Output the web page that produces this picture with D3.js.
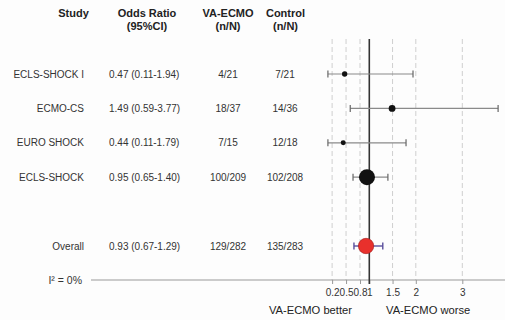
<!DOCTYPE html>
<html>
<head>
<meta charset="utf-8">
<script src="https://cdn.jsdelivr.net/npm/d3@7"></script>
<style>
  body { margin: 0; background: #fdfdfd; }
  svg { font-family: "Liberation Sans", Arial, sans-serif; }
</style>
</head>
<body>
<svg id="chart" width="505" height="320"></svg>
<script>
// データ
const studies = ["ECLS-SHOCK I", "ECMO-CS", "EURO SHOCK", "ECLS-SHOCK"];
const oddsRatio = [0.47, 1.49, 0.44, 0.95];
const ciLow = [0.11, 0.59, 0.11, 0.65];
const ciHigh = [1.94, 3.77, 1.79, 1.40];
const vaEcmo = ["4/21", "18/37", "7/15", "100/209"];
const control = ["7/21", "14/36", "12/18", "102/208"];
const weights = [8, 13, 7, 72];

const overall = { label: "Overall", or: 0.93, lo: 0.67, hi: 1.29, va: "129/282", ctl: "135/283" };
const heterogeneity = "I² = 0%";
const tickValues = [0.2, 0.5, 0.8, 1, 1.5, 2, 3];
const gridValues = [0.2, 0.5, 0.8, 1.5, 2, 3];

const svg = d3.select("#chart");

// スケール
const x = d3.scaleLinear().domain([1, 3]).range([369.3, 462.3]);
const y = d3.scaleLinear().domain([0, 5]).range([74, 246]);
const r = d3.scaleSqrt().domain([0, 72]).range([0, 8]);

const plotTop = 39, axisY = 280;

// ヘッダー
const headers = [
  { x: 73.5, lines: ["Study"] },
  { x: 147, lines: ["Odds Ratio", "(95%CI)"] },
  { x: 228, lines: ["VA-ECMO", "(n/N)"] },
  { x: 285.5, lines: ["Control", "(n/N)"] }
];
headers.forEach(h => {
  h.lines.forEach((t, i) => {
    svg.append("text")
      .attr("x", h.x).attr("y", 17 + i * 12.5)
      .attr("text-anchor", "middle")
      .attr("font-size", "11px").attr("font-weight", "bold")
      .attr("fill", "#222")
      .text(t);
  });
});

// 破線のグリッド
svg.append("g").selectAll("line")
  .data(gridValues)
  .enter().append("line")
  .attr("x1", d => x(d)).attr("x2", d => x(d))
  .attr("y1", plotTop).attr("y2", axisY)
  .attr("stroke", "#cfcfcf").attr("stroke-width", 1)
  .attr("stroke-dasharray", "5,3");

// 横軸
svg.append("line")
  .attr("x1", 91).attr("x2", 505)
  .attr("y1", axisY).attr("y2", axisY)
  .attr("stroke", "#999").attr("stroke-width", 1.2);

const axis = d3.axisBottom(x).tickValues(tickValues).tickSize(4)
  .tickFormat(d => String(d));
const ax = svg.append("g")
  .attr("transform", `translate(0,${axisY})`)
  .call(axis);
ax.select(".domain").remove();
ax.selectAll(".tick line").attr("stroke", "#999");
ax.selectAll(".tick text")
  .attr("font-size", "10px").attr("fill", "#333")
  .attr("font-family", "Liberation Sans, Arial, sans-serif")
  .attr("dy", "0.9em");

// 基準線 (OR = 1)
svg.append("line")
  .attr("x1", x(1)).attr("x2", x(1))
  .attr("y1", plotTop).attr("y2", axisY + 4)
  .attr("stroke", "#333").attr("stroke-width", 1.6);

// 各試験の行
const rows = studies.map((s, i) => ({
  name: s, or: oddsRatio[i], lo: ciLow[i], hi: ciHigh[i],
  va: vaEcmo[i], ctl: control[i], w: weights[i], i: i
}));

const fmt = d3.format(".2f");
const textCols = (g, d, yy) => {
  g.append("text").attr("x", 84).attr("y", yy).attr("text-anchor", "end").text(d.name);
  g.append("text").attr("x", 109).attr("y", yy)
    .text(`${fmt(d.or)} (${fmt(d.lo)}-${fmt(d.hi)})`);
  g.append("text").attr("x", 228).attr("y", yy).attr("text-anchor", "middle").text(d.va);
  g.append("text").attr("x", 285).attr("y", yy).attr("text-anchor", "middle").text(d.ctl);
};

const capH = 3.5;
rows.forEach(d => {
  const yy = y(d.i);
  const g = svg.append("g").attr("font-size", "10px").attr("fill", "#333");
  textCols(g, d, yy + 3.5);

  g.append("line")
    .attr("x1", x(d.lo)).attr("x2", x(d.hi))
    .attr("y1", yy).attr("y2", yy)
    .attr("stroke", "#8a8a8a").attr("stroke-width", 1.2);
  [d.lo, d.hi].forEach(v => {
    g.append("line")
      .attr("x1", x(v)).attr("x2", x(v))
      .attr("y1", yy - capH).attr("y2", yy + capH)
      .attr("stroke", "#666").attr("stroke-width", 1.2);
  });
  g.append("circle")
    .attr("cx", x(d.or)).attr("cy", yy)
    .attr("r", r(d.w))
    .attr("fill", "#111");
});

// 全体
{
  const d = { name: overall.label, or: overall.or, lo: overall.lo, hi: overall.hi, va: overall.va, ctl: overall.ctl };
  const yy = y(5);
  const g = svg.append("g").attr("font-size", "10px").attr("fill", "#333");
  textCols(g, d, yy + 3.5);
  g.append("line")
    .attr("x1", x(d.lo)).attr("x2", x(d.hi))
    .attr("y1", yy).attr("y2", yy)
    .attr("stroke", "#5a4f9c").attr("stroke-width", 1.4);
  [d.lo, d.hi].forEach(v => {
    g.append("line")
      .attr("x1", x(v)).attr("x2", x(v))
      .attr("y1", yy - capH).attr("y2", yy + capH)
      .attr("stroke", "#5a4f9c").attr("stroke-width", 1.4);
  });
  g.append("circle")
    .attr("cx", x(d.or)).attr("cy", yy)
    .attr("r", 7.7)
    .attr("fill", "#e8302c").attr("stroke", "#a01818").attr("stroke-width", 0.6);
}

// I²
svg.append("text")
  .attr("x", 82).attr("y", axisY + 4)
  .attr("text-anchor", "end")
  .attr("font-size", "10.5px").attr("fill", "#333")
  .text(heterogeneity);

// 下部ラベル
svg.append("text")
  .attr("x", 352).attr("y", 314).attr("text-anchor", "end")
  .attr("font-size", "11.2px").attr("fill", "#222")
  .text("VA-ECMO better");
svg.append("text")
  .attr("x", 386).attr("y", 314)
  .attr("font-size", "11.2px").attr("fill", "#222")
  .text("VA-ECMO worse");
</script>
</body>
</html>
